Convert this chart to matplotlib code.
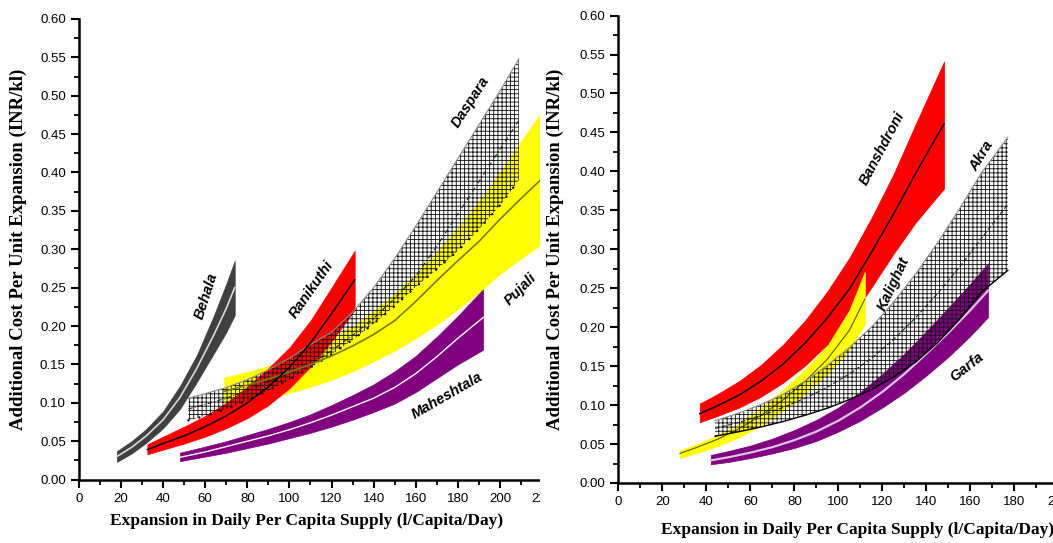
import numpy as np
import matplotlib.pyplot as plt
from matplotlib.ticker import MultipleLocator, FormatStrFormatter
from matplotlib.patches import Rectangle

# ---- left panel data ----
behala_x = [18, 25, 32, 40, 48, 56, 64, 70, 74]
behala_hi = [0.037, 0.050, 0.066, 0.089, 0.122, 0.162, 0.213, 0.255, 0.285]
behala_mid = [0.030, 0.042, 0.057, 0.078, 0.107, 0.145, 0.188, 0.223, 0.250]
behala_lo = [0.023, 0.034, 0.048, 0.067, 0.092, 0.127, 0.164, 0.192, 0.214]

ranikuthi_x = [32.5, 40, 50, 60, 70, 80, 90, 100, 110, 120, 131]
ranikuthi_hi = [0.046, 0.056, 0.069, 0.083, 0.100, 0.121, 0.145, 0.172, 0.207, 0.250, 0.298]
ranikuthi_mid = [0.039, 0.047, 0.057, 0.069, 0.083, 0.100, 0.121, 0.146, 0.178, 0.216, 0.260]
ranikuthi_lo = [0.033, 0.039, 0.047, 0.056, 0.067, 0.080, 0.097, 0.119, 0.147, 0.180, 0.221]

daspara_x = [52, 60, 70, 80, 90, 100, 110, 120, 130, 140, 150, 160, 170, 180, 190, 200, 209]
daspara_hi = [0.106, 0.112, 0.120, 0.130, 0.143, 0.158, 0.176, 0.192, 0.218, 0.250, 0.288,
              0.330, 0.374, 0.418, 0.462, 0.506, 0.548]
daspara_mid = [0.092, 0.098, 0.106, 0.116, 0.128, 0.138, 0.150, 0.168, 0.188, 0.210, 0.236,
               0.265, 0.304, 0.346, 0.388, 0.430, 0.468]
daspara_lo = [0.077, 0.083, 0.092, 0.103, 0.116, 0.130, 0.146, 0.163, 0.182, 0.203, 0.226,
              0.251, 0.274, 0.298, 0.326, 0.357, 0.390]

pujali_x = [69, 80, 90, 100, 110, 120, 130, 140, 150, 160, 170, 180, 190, 200, 210, 220]
pujali_hi = [0.133, 0.140, 0.148, 0.158, 0.170, 0.184, 0.200, 0.219, 0.242, 0.268, 0.297,
             0.328, 0.362, 0.400, 0.440, 0.480]
pujali_mid = [0.115, 0.123, 0.131, 0.140, 0.150, 0.161, 0.174, 0.189, 0.207, 0.232, 0.259,
              0.285, 0.310, 0.339, 0.366, 0.392]
pujali_lo = [0.095, 0.100, 0.106, 0.113, 0.121, 0.130, 0.141, 0.154, 0.168, 0.184, 0.202,
             0.222, 0.244, 0.268, 0.288, 0.307]

maheshtala_x = [48, 60, 70, 80, 90, 100, 110, 120, 130, 140, 150, 160, 170, 180, 192]
maheshtala_hi = [0.035, 0.043, 0.050, 0.058, 0.066, 0.075, 0.085, 0.097, 0.110, 0.124, 0.141,
                 0.161, 0.186, 0.213, 0.248]
maheshtala_mid = [0.029, 0.036, 0.043, 0.050, 0.057, 0.065, 0.074, 0.084, 0.095, 0.106, 0.120,
                  0.138, 0.160, 0.184, 0.211]
maheshtala_lo = [0.024, 0.030, 0.035, 0.041, 0.047, 0.054, 0.061, 0.069, 0.078, 0.088, 0.099,
                 0.114, 0.132, 0.150, 0.169]

# ---- right panel data ----
banshdroni_x = [37, 45, 55, 65, 75, 85, 95, 105, 115, 125, 135, 148]
banshdroni_hi = [0.102, 0.114, 0.131, 0.152, 0.178, 0.209, 0.246, 0.289, 0.340, 0.396, 0.460, 0.541]
banshdroni_mid = [0.089, 0.099, 0.113, 0.131, 0.153, 0.180, 0.212, 0.249, 0.296, 0.345, 0.397, 0.461]
banshdroni_lo = [0.078, 0.086, 0.097, 0.111, 0.129, 0.151, 0.178, 0.209, 0.251, 0.294, 0.334, 0.378]

kalighat_x = [28, 35, 45, 55, 65, 75, 85, 95, 105, 112]
kalighat_hi = [0.042, 0.049, 0.061, 0.077, 0.097, 0.120, 0.146, 0.176, 0.222, 0.271]
kalighat_mid = [0.038, 0.045, 0.056, 0.070, 0.087, 0.107, 0.131, 0.159, 0.196, 0.236]
kalighat_lo = [0.032, 0.038, 0.047, 0.059, 0.074, 0.093, 0.115, 0.140, 0.171, 0.204]

akra_x = [44, 55, 65, 75, 85, 95, 105, 115, 125, 135, 145, 155, 165, 177]
akra_hi = [0.080, 0.090, 0.101, 0.114, 0.131, 0.151, 0.174, 0.200, 0.232, 0.268, 0.308,
           0.352, 0.398, 0.444]
akra_mid = [0.070, 0.078, 0.087, 0.097, 0.109, 0.123, 0.140, 0.160, 0.184, 0.212, 0.243,
            0.277, 0.314, 0.358]
akra_lo = [0.060, 0.066, 0.072, 0.079, 0.087, 0.096, 0.107, 0.120, 0.136, 0.155, 0.180,
           0.210, 0.245, 0.273]

garfa_x = [42, 50, 60, 70, 80, 90, 100, 110, 120, 130, 140, 150, 160, 168]
garfa_hi = [0.036, 0.041, 0.048, 0.057, 0.068, 0.081, 0.097, 0.117, 0.140, 0.166, 0.195,
            0.225, 0.256, 0.282]
garfa_mid = [0.029, 0.033, 0.039, 0.046, 0.055, 0.066, 0.080, 0.097, 0.117, 0.140, 0.166,
             0.193, 0.222, 0.247]
garfa_lo = [0.024, 0.027, 0.032, 0.038, 0.045, 0.054, 0.066, 0.080, 0.097, 0.116, 0.138,
            0.162, 0.189, 0.213]

plt.rcParams['hatch.linewidth'] = 0.65
TICK_FONT = ['Liberation Sans Narrow', 'Liberation Sans', 'DejaVu Sans']
SERIF = ['Liberation Serif', 'DejaVu Serif']
XLABEL = "Expansion in Daily Per Capita Supply (l/Capita/Day)"
YLABEL = "Additional Cost Per Unit Expansion (INR/kl)"

fig = plt.figure(figsize=(10.53, 5.43), dpi=100)
ax1 = fig.add_axes([0.0750, 0.1168, 0.4397, 0.8483])
ax2 = fig.add_axes([0.5872, 0.1105, 0.4180, 0.8608])
ax1.set_zorder(0)
ax2.set_zorder(2)
# the left panel is cropped where the right panel begins
fig.add_artist(Rectangle((540 / 1053, 0), 1 - 540 / 1053, 1, transform=fig.transFigure,
                         facecolor='white', edgecolor='none', zorder=1))


def band(ax, x, lo, hi, color, zorder):
    ax.fill_between(x, lo, hi, facecolor=color, edgecolor=color, linewidth=0.5, zorder=zorder)


def hatch_band(ax, x, lo, hi, zorder):
    ax.fill_between(x, lo, hi, facecolor='none', edgecolor='#1a1a1a', hatch='++++',
                    linewidth=0, zorder=zorder)


def style_axes(ax, xmax, xlabel_pos, ylabel_x):
    ax.set_xlim(0, xmax)
    ax.set_ylim(0, 0.60)
    ax.xaxis.set_major_locator(MultipleLocator(20))
    ax.xaxis.set_minor_locator(MultipleLocator(10))
    ax.yaxis.set_major_locator(MultipleLocator(0.05))
    ax.yaxis.set_minor_locator(MultipleLocator(0.025))
    ax.yaxis.set_major_formatter(FormatStrFormatter('%.2f'))
    for s in ['top', 'right']:
        ax.spines[s].set_visible(False)
    for s in ['left', 'bottom']:
        ax.spines[s].set_linewidth(1.8)
    ax.tick_params(which='major', direction='out', length=6, width=1.5, labelsize=9.5)
    ax.tick_params(which='minor', direction='out', length=3.5, width=1.3)
    for lab in ax.get_xticklabels() + ax.get_yticklabels():
        lab.set_fontfamily(TICK_FONT)
    ax.set_xlabel(XLABEL, fontfamily=SERIF, fontweight='bold', fontsize=12.5)
    ax.set_ylabel(YLABEL, fontfamily=SERIF, fontweight='bold', fontsize=13.5)
    ax.xaxis.set_label_coords(*xlabel_pos)
    ax.yaxis.set_label_coords(ylabel_x, 0.5)


def name(ax, x, y, text, rot):
    ax.text(x, y, text, rotation=rot, rotation_mode='anchor', ha='center', va='center',
            fontsize=10.5, fontweight='bold', fontstyle='italic',
            fontfamily=['Liberation Sans', 'DejaVu Sans'], zorder=10)


# ---- left panel ----
band(ax1, behala_x, behala_lo, behala_hi, '#404040', 2)
ax1.plot(behala_x, behala_mid, color='#d9d9d9', lw=1.2, zorder=3)

band(ax1, maheshtala_x, maheshtala_lo, maheshtala_hi, '#800080', 2)
ax1.plot(maheshtala_x, maheshtala_mid, color='white', lw=1.0, zorder=3)

band(ax1, pujali_x, pujali_lo, pujali_hi, '#ffff00', 2)
band(ax1, ranikuthi_x, ranikuthi_lo, ranikuthi_hi, '#ff0000', 3)
hatch_band(ax1, daspara_x, daspara_lo, daspara_hi, 4)
ax1.plot(daspara_x, daspara_hi, color='#8c8c8c', lw=0.8, zorder=5)
ax1.plot(daspara_x, daspara_mid, color='#222222', lw=0.8, ls=(0, (4, 2, 1, 2)), zorder=5)
ax1.plot(daspara_x, daspara_lo, color='#111111', lw=1.8, ls=(0, (0.01, 4.5)),
         dash_capstyle='round', zorder=5)
ax1.plot(pujali_x, pujali_mid, color='#7a7a10', lw=1.2, zorder=5)
ax1.plot(ranikuthi_x, ranikuthi_mid, color='black', lw=1.1, zorder=6)

name(ax1, 60.3, 0.239, 'Behala', 72)
name(ax1, 110.7, 0.248, 'Ranikuthi', 55)
name(ax1, 186.3, 0.492, 'Daspara', 57)
name(ax1, 210, 0.248, 'Pujali', 45)
name(ax1, 174.9, 0.109, 'Maheshtala', 30)

style_axes(ax1, 220, (0.492, -0.072), -0.112)

# ---- right panel ----
band(ax2, banshdroni_x, banshdroni_lo, banshdroni_hi, '#ff0000', 2)
ax2.plot(banshdroni_x, banshdroni_mid, color='black', lw=1.1, zorder=3)

band(ax2, kalighat_x, kalighat_lo, kalighat_hi, '#ffff00', 3)
ax2.plot(kalighat_x, kalighat_mid, color='#5a5a30', lw=0.8, zorder=4)

band(ax2, garfa_x, garfa_lo, garfa_hi, '#800080', 4)
ax2.plot(garfa_x, garfa_mid, color='#dcc4e4', lw=1.6, zorder=5)

hatch_band(ax2, akra_x, akra_lo, akra_hi, 6)
ax2.plot(akra_x, akra_hi, color='#8c8c8c', lw=0.8, zorder=7)
ax2.plot(akra_x, akra_mid, color='#222222', lw=0.8, ls=(0, (4, 2)), zorder=7)
ax2.plot(akra_x, akra_lo, color='black', lw=1.0, zorder=7)

name(ax2, 119.8, 0.429, 'Banshdroni', 62)
name(ax2, 165.2, 0.420, 'Akra', 58)
name(ax2, 125, 0.255, 'Kalighat', 65)
name(ax2, 158.4, 0.149, 'Garfa', 38)

style_axes(ax2, 200, (0.544, -0.083), -0.123)

fig.savefig('out.png', dpi=100)
